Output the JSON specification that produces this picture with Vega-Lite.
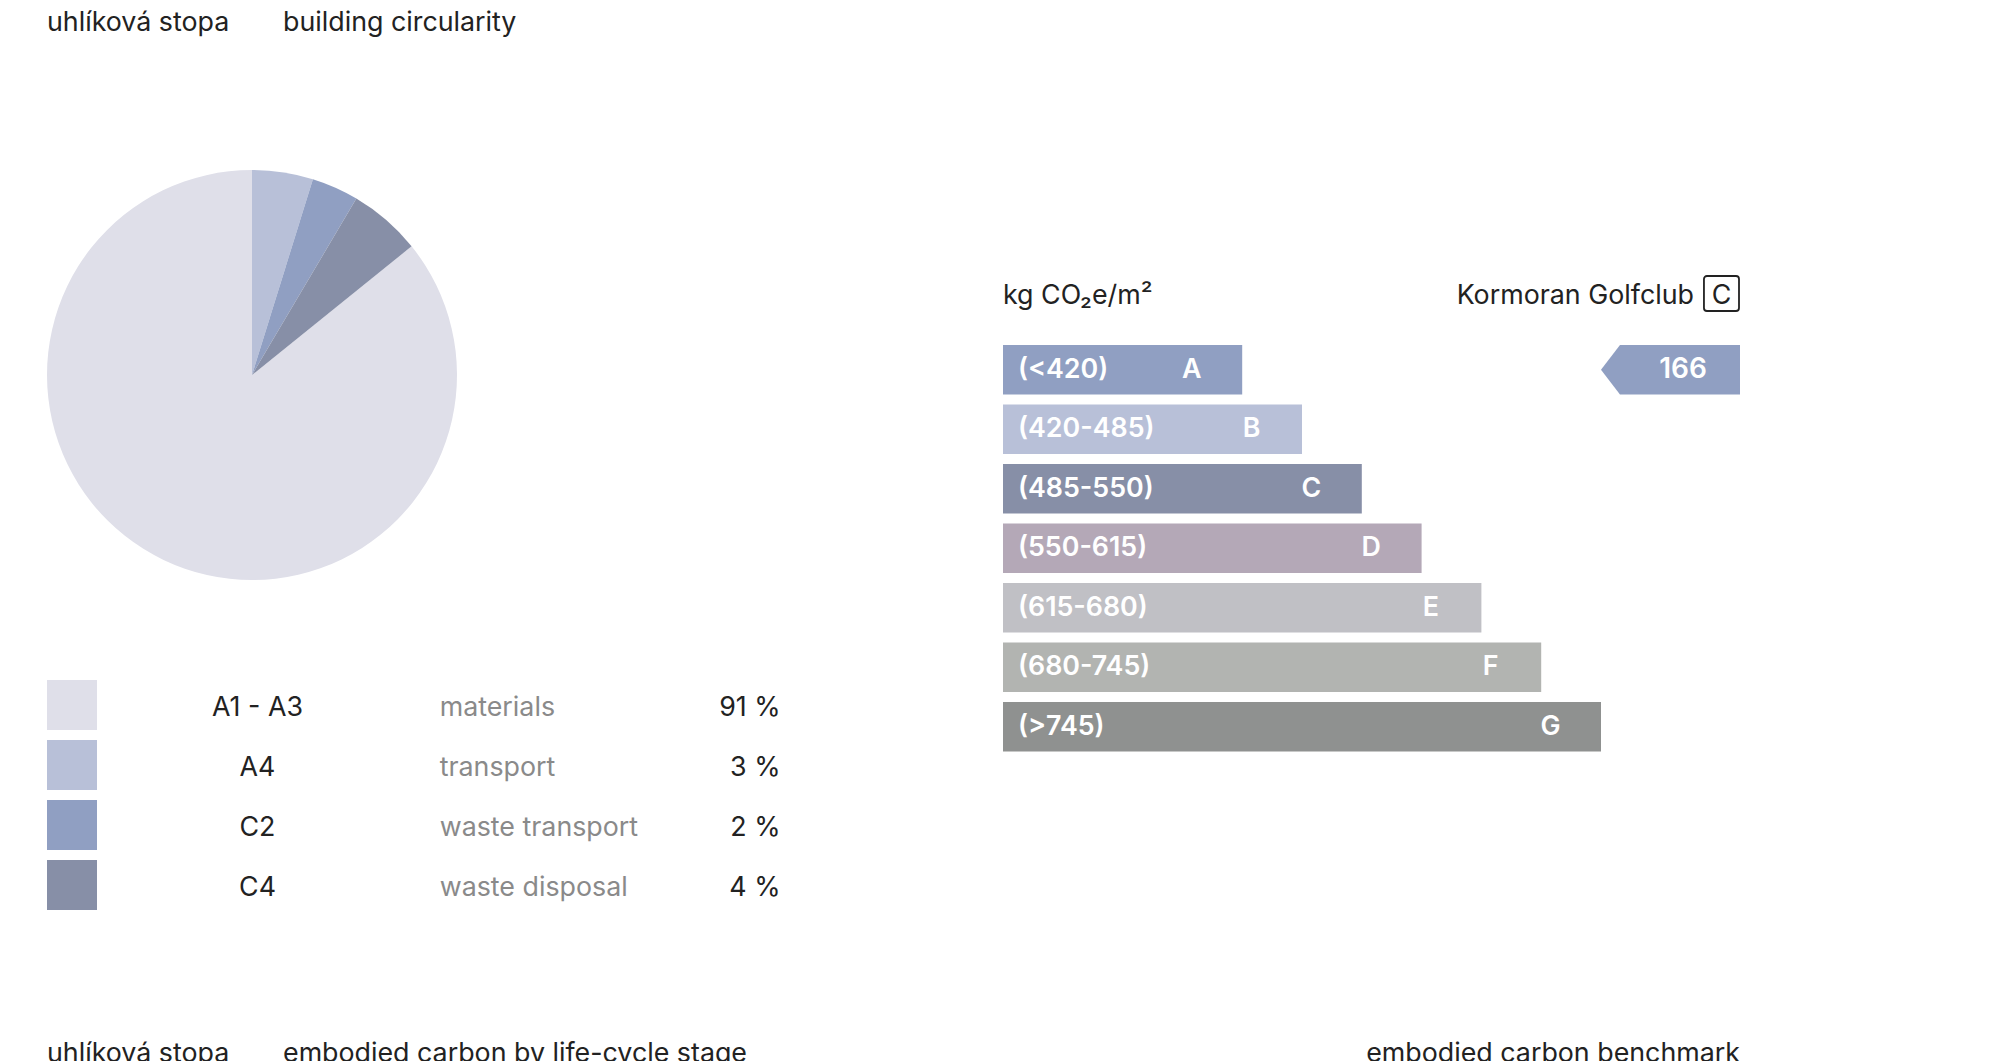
{
  "$schema": "https://vega.github.io/schema/vega-lite/v6.json",
  "background": "#ffffff",
  "padding": {"left": 47, "top": 0, "right": 0, "bottom": 0},
  "config": {
    "view": {"stroke": null},
    "font": "Inter",
    "text": {"fontSize": 26.8, "baseline": "middle", "color": "#222222"}
  },
  "datasets": {
    "heading": [
      {"slot": "1", "label": "uhlíková stopa"},
      {"slot": "2", "label": "building circularity"}
    ],
    "footing": [
      {"slot": "1", "label": "uhlíková stopa"},
      {"slot": "2", "label": "embodied carbon by life-cycle stage"}
    ],
    "footingRight": [
      {"label": "embodied carbon benchmark"}
    ],
    "stages": [
      {"stage": "A1 - A3", "label": "materials", "share": "91 %", "value": 85.8, "slice": 4},
      {"stage": "A4", "label": "transport", "share": "3 %", "value": 4.8, "slice": 1},
      {"stage": "C2", "label": "waste transport", "share": "2 %", "value": 3.7, "slice": 2},
      {"stage": "C4", "label": "waste disposal", "share": "4 %", "value": 5.7, "slice": 3}
    ],
    "classes": [
      {"class": "A", "range": "(<420)", "length": 4},
      {"class": "B", "range": "(420-485)", "length": 5},
      {"class": "C", "range": "(485-550)", "length": 6},
      {"class": "D", "range": "(550-615)", "length": 7},
      {"class": "E", "range": "(615-680)", "length": 8},
      {"class": "F", "range": "(680-745)", "length": 9},
      {"class": "G", "range": "(>745)", "length": 10}
    ],
    "project": [
      {"project": "Kormoran Golfclub", "rating": "C", "value": 166, "class": "A", "unit": "kg CO₂e/m²"}
    ]
  },
  "spacing": 124,
  "vconcat": [
    {
      "width": 700,
      "height": 46,
      "data": {"name": "heading"},
      "mark": {"type": "text", "align": "left"},
      "encoding": {
        "x": {"field": "slot", "type": "nominal", "axis": null, "bandPosition": 0,
              "scale": {"type": "band", "paddingInner": 0, "paddingOuter": 0.483, "align": 0}},
        "text": {"field": "label"}
      }
    },
    {
      "spacing": 222,
      "hconcat": [
        {
          "spacing": 95,
          "vconcat": [
            {
              "width": 410,
              "height": 198,
              "data": {"name": "stages"},
              "mark": {"type": "arc", "outerRadius": 205},
              "encoding": {
                "theta": {"field": "value", "type": "quantitative", "stack": true},
                "order": {"field": "slice", "type": "quantitative"},
                "color": {"field": "stage", "type": "nominal", "legend": null,
                          "scale": {"domain": ["A1 - A3", "A4", "C2", "C4"],
                                    "range": ["#dfdfe9", "#b8c0d8", "#909fc2", "#878fa7"]}}
              }
            },
            {
              "spacing": 21.7,
              "hconcat": [
                {
                  "spacing": 0,
                  "hconcat": [
                    {
                      "width": 50,
                      "height": 240,
                      "data": {"name": "stages"},
                      "mark": "rect",
                      "encoding": {
                        "y": {"field": "stage", "type": "nominal", "sort": null, "axis": null,
                              "scale": {"type": "band", "paddingInner": 0.1667, "paddingOuter": 0.0833}},
                        "color": {"field": "stage", "type": "nominal", "legend": null,
                                  "scale": {"domain": ["A1 - A3", "A4", "C2", "C4"],
                                            "range": ["#dfdfe9", "#b8c0d8", "#909fc2", "#878fa7"]}}
                      }
                    },
                    {
                      "width": 321,
                      "height": 240,
                      "data": {"name": "stages"},
                      "mark": {"type": "text", "align": "center", "dy": 3},
                      "encoding": {
                        "y": {"field": "stage", "type": "nominal", "sort": null, "axis": null, "bandPosition": 0.5,
                              "scale": {"type": "band", "paddingInner": 0.1667, "paddingOuter": 0.0833}},
                        "text": {"field": "stage"}
                      }
                    }
                  ]
                },
                {
                  "width": 220,
                  "height": 240,
                  "data": {"name": "stages"},
                  "mark": {"type": "text", "align": "left", "dy": 3, "color": "#8a8a8a"},
                  "encoding": {
                    "y": {"field": "stage", "type": "nominal", "sort": null, "axis": null, "bandPosition": 0.5,
                          "scale": {"type": "band", "paddingInner": 0.1667, "paddingOuter": 0.0833}},
                    "x": {"datum": 0, "type": "quantitative", "axis": null, "scale": {"domain": [0, 1], "nice": false}},
                    "text": {"field": "label"}
                  }
                },
                {
                  "width": 99.1,
                  "height": 240,
                  "data": {"name": "stages"},
                  "mark": {"type": "text", "align": "right", "dy": 3},
                  "encoding": {
                    "y": {"field": "stage", "type": "nominal", "sort": null, "axis": null, "bandPosition": 0.5,
                          "scale": {"type": "band", "paddingInner": 0.1667, "paddingOuter": 0.0833}},
                    "x": {"datum": 1, "type": "quantitative", "axis": null, "scale": {"domain": [0, 1], "nice": false}},
                    "text": {"field": "share"}
                  }
                }
              ]
            }
          ]
        },
        {
          "spacing": 28,
          "vconcat": [
            {
              "width": 736,
              "height": 35,
              "data": {"name": "project"},
              "layer": [
                {
                  "mark": {"type": "text", "align": "left", "dy": 2},
                  "encoding": {
                    "x": {"datum": "unit", "type": "nominal", "axis": null, "bandPosition": 0,
                          "scale": {"type": "band", "domain": ["unit", "rating"], "paddingInner": 0.95, "paddingOuter": 0}},
                    "text": {"field": "unit"}
                  }
                },
                {
                  "mark": {"type": "text", "align": "right", "dx": -10, "dy": 2},
                  "encoding": {
                    "x": {"datum": "rating", "type": "nominal", "axis": null, "bandPosition": 0,
                          "scale": {"type": "band", "domain": ["unit", "rating"], "paddingInner": 0.95, "paddingOuter": 0}},
                    "text": {"field": "project"}
                  }
                },
                {
                  "mark": {"type": "rect", "filled": false, "color": "#222222", "strokeWidth": 1.8, "cornerRadius": 3},
                  "encoding": {
                    "x": {"datum": "rating", "type": "nominal", "axis": null,
                          "scale": {"type": "band", "domain": ["unit", "rating"], "paddingInner": 0.95, "paddingOuter": 0}}
                  }
                },
                {
                  "mark": {"type": "text", "align": "center", "dy": 2},
                  "encoding": {
                    "x": {"datum": "rating", "type": "nominal", "axis": null, "bandPosition": 0.5,
                          "scale": {"type": "band", "domain": ["unit", "rating"], "paddingInner": 0.95, "paddingOuter": 0}},
                    "text": {"field": "rating"}
                  }
                }
              ]
            },
            {
              "spacing": 0,
              "hconcat": [
                {
                  "width": 598,
                  "height": 416.5,
                  "data": {"name": "classes"},
                  "layer": [
                    {
                      "mark": "bar",
                      "encoding": {
                        "y": {"field": "class", "type": "nominal", "axis": null,
                              "scale": {"type": "band", "domain": ["A", "B", "C", "D", "E", "F", "G"], "paddingInner": 0.17, "paddingOuter": 0.085}},
                        "x": {"field": "length", "type": "quantitative", "axis": null,
                              "scale": {"domain": [0, 10], "nice": false, "zero": true}},
                        "fill": {"field": "class", "type": "nominal", "legend": null,
                                 "scale": {"domain": ["A", "B", "C", "D", "E", "F", "G"],
                                           "range": ["#909fc2", "#b8c0d8", "#878fa7", "#b4a8b7", "#c0c0c5", "#b2b4b1", "#8f9190"]}}
                      }
                    },
                    {
                      "mark": {"type": "text", "align": "left", "dx": 15, "fontWeight": 600, "color": "#ffffff"},
                      "encoding": {
                        "y": {"field": "class", "type": "nominal", "axis": null, "bandPosition": 0.5,
                              "scale": {"type": "band", "domain": ["A", "B", "C", "D", "E", "F", "G"], "paddingInner": 0.17, "paddingOuter": 0.085}},
                        "x": {"datum": 0, "type": "quantitative", "axis": null},
                        "text": {"field": "range"}
                      }
                    },
                    {
                      "mark": {"type": "text", "align": "center", "dx": -50.5, "fontWeight": 600, "color": "#ffffff"},
                      "encoding": {
                        "y": {"field": "class", "type": "nominal", "axis": null, "bandPosition": 0.5,
                              "scale": {"type": "band", "domain": ["A", "B", "C", "D", "E", "F", "G"], "paddingInner": 0.17, "paddingOuter": 0.085}},
                        "x": {"field": "length", "type": "quantitative", "axis": null},
                        "text": {"field": "class"}
                      }
                    }
                  ]
                },
                {
                  "width": 139,
                  "height": 416.5,
                  "data": {"name": "project"},
                  "layer": [
                    {
                      "mark": {"type": "point", "shape": "M-1,0L-0.727,-0.355L1,-0.355L1,0.355L-0.727,0.355Z",
                               "size": 19321, "filled": true, "opacity": 1},
                      "encoding": {
                        "y": {"field": "class", "type": "nominal", "axis": null, "bandPosition": 0.5,
                              "scale": {"type": "band", "domain": ["A", "B", "C", "D", "E", "F", "G"], "paddingInner": 0.17, "paddingOuter": 0.085}},
                        "fill": {"field": "class", "type": "nominal", "legend": null,
                                 "scale": {"domain": ["A", "B", "C", "D", "E", "F", "G"],
                                           "range": ["#909fc2", "#b8c0d8", "#878fa7", "#b4a8b7", "#c0c0c5", "#b2b4b1", "#8f9190"]}}
                      }
                    },
                    {
                      "mark": {"type": "text", "align": "center", "dx": 12.5, "fontSize": 28, "fontWeight": 600, "color": "#ffffff"},
                      "encoding": {
                        "y": {"field": "class", "type": "nominal", "axis": null, "bandPosition": 0.5,
                              "scale": {"type": "band", "domain": ["A", "B", "C", "D", "E", "F", "G"], "paddingInner": 0.17, "paddingOuter": 0.085}},
                        "text": {"field": "value"}
                      }
                    }
                  ]
                }
              ]
            }
          ]
        }
      ]
    },
    {
      "spacing": 593,
      "hconcat": [
        {
          "width": 700,
          "height": 30,
          "data": {"name": "footing"},
          "mark": {"type": "text", "align": "left"},
          "encoding": {
            "x": {"field": "slot", "type": "nominal", "axis": null, "bandPosition": 0,
                  "scale": {"type": "band", "paddingInner": 0, "paddingOuter": 0.483, "align": 0}},
            "text": {"field": "label"}
          }
        },
        {
          "width": 400,
          "height": 30,
          "data": {"name": "footingRight"},
          "mark": {"type": "text", "align": "right"},
          "encoding": {
            "x": {"datum": 1, "type": "quantitative", "axis": null, "scale": {"domain": [0, 1], "nice": false}},
            "text": {"field": "label"}
          }
        }
      ]
    }
  ]
}
